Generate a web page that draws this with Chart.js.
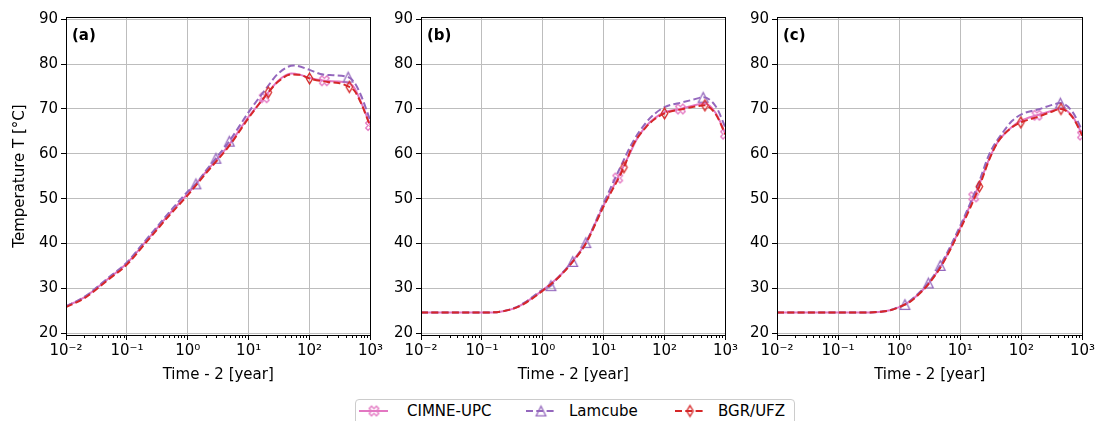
<!DOCTYPE html>
<html><head><meta charset="utf-8">
<script src="https://cdn.jsdelivr.net/npm/chart.js@4.4.0/dist/chart.umd.min.js"></script>
<style>
html,body{margin:0;padding:0;background:#fff;width:1102px;height:421px;overflow:hidden;font-family:'DejaVu Sans',sans-serif;}
canvas.p{position:absolute;top:0;}
#legend{position:absolute;left:355px;top:399px;width:440px;height:34px;border:1px solid #cccccc;border-radius:4px;box-sizing:border-box;background:#fff;}
#legend .ic{position:absolute;top:1px;}
#legend .tx{position:absolute;top:1px;font-size:15px;line-height:20px;color:#000;white-space:nowrap;}
</style></head>
<body>
<canvas class="p" id="ca" width="390" height="384" style="left:0px"></canvas>
<canvas class="p" id="cb" width="355" height="384" style="left:390px"></canvas>
<canvas class="p" id="cc" width="357" height="384" style="left:745px"></canvas>
<div id="legend"></div>
<script>
// ---------- labels / ticks ----------
const PANEL_LABELS = ['(a)', '(b)', '(c)'];
const SERIES_NAMES = ['CIMNE-UPC', 'Lamcube', 'BGR/UFZ'];
const X_TICKS = [0.01, 0.1, 1, 10, 100, 1000];
const X_TICK_LABELS = ['10⁻²', '10⁻¹', '10⁰', '10¹', '10²', '10³'];
const Y_TICKS = [20, 30, 40, 50, 60, 70, 80, 90];
const X_TITLE = 'Time - 2 [year]';
const Y_TITLE = 'Temperature T [°C]';

// ---------- panel (a) ----------
const A_CIMNE_T = [0.01, 0.02, 0.05, 0.1, 0.2, 0.5, 1, 2, 5, 10, 18, 30, 50, 70, 100, 175, 300, 450, 550, 700, 1000];
const A_CIMNE_V = [26.0, 28.0, 32.2, 35.6, 40.3, 46.6, 51.1, 56.0, 62.4, 68.3, 72.5, 76.2, 77.9, 77.6, 76.9, 76.3, 76.1, 75.7, 74.6, 71.5, 66.3];
const A_CIMNE_M = [18, 175, 1000];
const A_LAM_T = [0.01, 0.02, 0.05, 0.1, 0.2, 0.5, 1, 1.36, 2, 2.9, 4.8, 10, 20, 30, 55, 100, 150, 250, 430, 550, 700, 1000];
const A_LAM_V = [26.0, 28.1, 32.4, 35.8, 40.6, 47.0, 51.6, 53.3, 56.3, 59.0, 62.8, 69.3, 74.8, 77.8, 79.7, 78.7, 77.8, 77.5, 77.1, 75.8, 73.0, 67.3];
const A_LAM_M = [1.36, 2.9, 4.8, 430];
const A_BGR_T = [0.01, 0.02, 0.05, 0.1, 0.2, 0.5, 1, 2, 5, 10, 21, 30, 50, 70, 100, 200, 300, 450, 550, 700, 1000];
const A_BGR_V = [25.8, 27.8, 32.0, 35.3, 40.0, 46.3, 50.8, 55.7, 62.1, 68.0, 73.7, 76.0, 77.7, 77.6, 76.8, 76.0, 75.8, 74.9, 74.0, 71.3, 66.0];
const A_BGR_M = [21, 100, 450];

// ---------- panel (b) ----------
const B_CIMNE_T = [0.01, 0.1, 0.2, 0.35, 0.5, 1, 2, 3, 5, 10, 17, 25, 36, 50, 70, 100, 182, 300, 450, 700, 1000];
const B_CIMNE_V = [24.6, 24.6, 24.8, 25.6, 26.7, 29.6, 33.1, 35.9, 40.0, 48.5, 54.6, 59.2, 63.5, 66.2, 68.0, 69.3, 70.0, 70.8, 71.2, 69.0, 64.4];
const B_CIMNE_M = [17, 182, 1000];
const B_LAM_T = [0.01, 0.1, 0.2, 0.35, 0.5, 1, 1.36, 2, 3.1, 5.1, 10, 20, 30, 50, 70, 100, 200, 300, 430, 700, 1000];
const B_LAM_V = [24.6, 24.6, 24.8, 25.7, 26.8, 29.7, 30.6, 33.2, 36.0, 40.2, 49.0, 57.8, 62.6, 67.0, 69.0, 70.4, 71.5, 72.1, 72.6, 70.5, 65.8];
const B_LAM_M = [1.36, 3.1, 5.1, 430];
const B_BGR_T = [0.01, 0.1, 0.2, 0.35, 0.5, 1, 2, 3, 5, 10, 21.5, 30, 50, 70, 100, 200, 300, 460, 700, 1000];
const B_BGR_V = [24.6, 24.6, 24.8, 25.6, 26.6, 29.5, 33.0, 35.7, 39.8, 48.3, 57.0, 61.8, 66.0, 67.8, 69.0, 70.0, 70.5, 70.8, 68.7, 64.3];
const B_BGR_M = [21.5, 100, 460];

// ---------- panel (c) ----------
const C_CIMNE_T = [0.01, 0.3, 0.5, 0.7, 1, 1.5, 2, 3, 5, 10, 16.6, 20, 30, 42, 70, 100, 180, 300, 450, 700, 1000];
const C_CIMNE_V = [24.6, 24.6, 24.8, 25.1, 25.8, 27.1, 28.5, 31.0, 35.3, 43.5, 50.4, 52.8, 59.0, 62.8, 66.0, 67.4, 68.6, 69.5, 70.1, 68.2, 64.2];
const C_CIMNE_M = [16.6, 180, 1000];
const C_LAM_T = [0.01, 0.3, 0.5, 0.7, 1, 1.24, 2, 3, 4.7, 10, 20, 30, 50, 70, 100, 200, 300, 435, 700, 1000];
const C_LAM_V = [24.6, 24.6, 24.8, 25.1, 25.9, 26.4, 28.7, 31.2, 35.1, 44.0, 53.5, 60.0, 64.8, 67.3, 68.8, 70.0, 70.8, 71.3, 69.2, 65.0];
const C_LAM_M = [1.24, 3, 4.7, 435];
const C_BGR_T = [0.01, 0.3, 0.5, 0.7, 1, 1.5, 2, 3, 5, 10, 20.5, 30, 42, 70, 98, 200, 300, 445, 700, 1000];
const C_BGR_V = [24.6, 24.6, 24.8, 25.1, 25.8, 27.0, 28.4, 30.9, 35.2, 43.2, 52.7, 58.8, 62.8, 65.9, 67.0, 68.4, 69.3, 70.0, 68.0, 64.0];
const C_BGR_M = [20.5, 98, 445];

// ---------- styling ----------
const COLORS = ['#e377c2', '#9467bd', '#d62728'];
const DASHES = [[], [7, 3.3], [7, 3.3]];
const FONT = "'DejaVu Sans', sans-serif";
const FS = 15;

function markerCanvas(kind, color) {
  const c = document.createElement('canvas');
  c.width = 15; c.height = 15;
  const g = c.getContext('2d');
  g.strokeStyle = color; g.lineWidth = 1.3; g.lineJoin = 'miter';
  g.translate(7.5, 7.5);
  g.beginPath();
  if (kind === 'X') {
    const r = 4.8;
    const P = [[-0.5,-1],[0,-0.5],[0.5,-1],[1,-0.5],[0.5,0],[1,0.5],[0.5,1],[0,0.5],[-0.5,1],[-1,0.5],[-0.5,0],[-1,-0.5]];
    P.forEach((p, i) => i ? g.lineTo(p[0]*r, p[1]*r) : g.moveTo(p[0]*r, p[1]*r));
  } else if (kind === 'tri') {
    const r = 4.8;
    g.moveTo(0, -r); g.lineTo(-r, r); g.lineTo(r, r);
  } else {
    const r = 5.4;
    g.moveTo(0, -r); g.lineTo(r*0.6, 0); g.lineTo(0, r); g.lineTo(-r*0.6, 0);
  }
  g.closePath(); g.stroke();
  return c;
}
const MARKERS = [markerCanvas('X', COLORS[0]), markerCanvas('tri', COLORS[1]), markerCanvas('dia', COLORS[2])];

// minor tick positions for log axis
const X_ALL_TICKS = [];
X_TICKS.forEach((d, i) => {
  X_ALL_TICKS.push(d);
  if (i < X_TICKS.length - 1) for (let k = 2; k <= 9; k++) X_ALL_TICKS.push(+(k * d).toPrecision(6));
});
const isMajor = v => X_TICKS.includes(v);

function ds(idx, t, v, m) {
  return {
    label: SERIES_NAMES[idx],
    data: t.map((x, i) => ({x: x, y: v[i]})),
    borderColor: COLORS[idx],
    backgroundColor: 'transparent',
    borderWidth: 2,
    borderDash: DASHES[idx],
    pointStyle: MARKERS[idx],
    pointRadius: ctx => m.includes(t[ctx.dataIndex]) ? 5 : 0,
    pointHoverRadius: 0,
    pointHitRadius: 0,
    cubicInterpolationMode: 'monotone',
    fill: false,
    order: 3 - idx
  };
}

function alignPx(p) { return Math.round(p - 0.5) + 0.5; }

const framePlugin = {
  id: 'frame',
  afterDraw(chart) {
    const {ctx, chartArea} = chart;
    const {left, right, top, bottom} = chartArea;
    const xs = chart.scales.x, ys = chart.scales.y;
    ctx.save();
    ctx.strokeStyle = '#000';
    ctx.lineWidth = 1;
    ctx.beginPath();
    xs.ticks.forEach(t => {
      const px = alignPx(xs.getPixelForValue(t.value));
      const len = isMajor(t.value) ? 5 : 3;
      ctx.moveTo(px, bottom); ctx.lineTo(px, bottom + len);
    });
    ys.ticks.forEach(t => {
      const py = alignPx(ys.getPixelForValue(t.value));
      ctx.moveTo(left - 5, py); ctx.lineTo(left, py);
    });
    ctx.stroke();
    ctx.strokeRect(alignPx(left), alignPx(top), Math.round(right - left), Math.round(bottom - top));
    ctx.fillStyle = '#000';
    ctx.font = 'bold ' + FS + 'px ' + FONT;
    ctx.textBaseline = 'middle';
    ctx.textAlign = 'left';
    ctx.fillText(chart.options.plugins.frame.label, left + 6, top + 19);
    ctx.restore();
  }
};

function makeChart(id, panel, datasets, yWidth, padRight, showYTitle) {
  return new Chart(document.getElementById(id), {
    type: 'line',
    data: {datasets: datasets},
    plugins: [framePlugin],
    options: {
      responsive: false,
      animation: false,
      devicePixelRatio: 1,
      layout: {padding: {left: 0, right: padRight, top: 16, bottom: 0}},
      plugins: {legend: {display: false}, tooltip: {enabled: false}, frame: {label: PANEL_LABELS[panel]}},
      scales: {
        x: {
          type: 'logarithmic',
          min: X_TICKS[0], max: X_TICKS[X_TICKS.length - 1],
          afterBuildTicks: s => { s.ticks = X_ALL_TICKS.map(v => ({value: v, major: isMajor(v)})); },
          afterFit: s => { s.height = 49; },
          ticks: {
            autoSkip: false, maxRotation: 0, minRotation: 0, padding: 7,
            color: '#000', font: {family: FONT, size: FS},
            callback: v => { const i = X_TICKS.indexOf(v); return i >= 0 ? X_TICK_LABELS[i] : ''; }
          },
          grid: {drawTicks: false, lineWidth: 1, color: c => (c.tick && isMajor(c.tick.value)) ? '#bdbdbd' : 'rgba(0,0,0,0)'},
          border: {display: false},
          title: {display: true, text: X_TITLE, color: '#000', font: {family: FONT, size: FS}, padding: {top: 0, bottom: 0}}
        },
        y: {
          type: 'linear',
          min: 19.6, max: 90.5,
          afterBuildTicks: s => { s.ticks = Y_TICKS.map(v => ({value: v})); },
          afterFit: s => { s.width = yWidth; },
          ticks: {padding: 8, color: '#000', font: {family: FONT, size: FS}},
          grid: {drawTicks: false, lineWidth: 1, color: '#bdbdbd'},
          border: {display: false},
          title: {display: showYTitle, text: Y_TITLE, color: '#000', font: {family: FONT, size: FS}, padding: {top: 11, bottom: 0}}
        }
      }
    }
  });
}

makeChart('ca', 0, [ds(0, A_CIMNE_T, A_CIMNE_V, A_CIMNE_M), ds(1, A_LAM_T, A_LAM_V, A_LAM_M), ds(2, A_BGR_T, A_BGR_V, A_BGR_M)], 66, 17, true);
makeChart('cb', 1, [ds(0, B_CIMNE_T, B_CIMNE_V, B_CIMNE_M), ds(1, B_LAM_T, B_LAM_V, B_LAM_M), ds(2, B_BGR_T, B_BGR_V, B_BGR_M)], 31, 17, false);
makeChart('cc', 2, [ds(0, C_CIMNE_T, C_CIMNE_V, C_CIMNE_M), ds(1, C_LAM_T, C_LAM_V, C_LAM_M), ds(2, C_BGR_T, C_BGR_V, C_BGR_M)], 32, 18, false);

// ---------- legend ----------
(function () {
  const leg = document.getElementById('legend');
  const iconLeft = [2, 169, 318];
  const textLeft = [51, 213, 362];
  SERIES_NAMES.forEach((name, i) => {
    const c = document.createElement('canvas');
    c.width = 32; c.height = 20; c.className = 'ic';
    c.style.left = iconLeft[i] + 'px';
    const g = c.getContext('2d');
    g.strokeStyle = COLORS[i]; g.lineWidth = 2; g.setLineDash(DASHES[i]);
    g.beginPath(); g.moveTo(1, 10); g.lineTo(30, 10); g.stroke();
    g.setLineDash([]);
    g.drawImage(MARKERS[i], 16 - 7.5, 10 - 7.5);
    leg.appendChild(c);
    const s = document.createElement('span');
    s.className = 'tx'; s.textContent = name; s.style.left = textLeft[i] + 'px';
    leg.appendChild(s);
  });
})();
</script>
</body></html>
